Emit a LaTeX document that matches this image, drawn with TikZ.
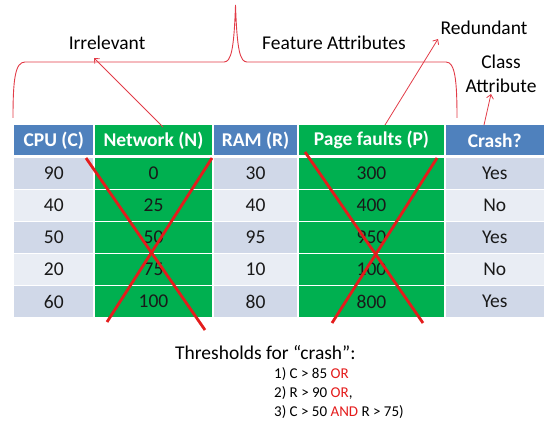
\documentclass[tikz,border=0pt]{standalone}
\usepackage{fontspec}
\setmainfont{Carlito}
\usetikzlibrary{arrows.meta}
\definecolor{hdblue}{RGB}{79,129,189}
\definecolor{featgreen}{RGB}{0,176,80}
\definecolor{rowdark}{RGB}{208,216,232}
\definecolor{rowlight}{RGB}{233,237,244}
\definecolor{markred}{RGB}{228,28,28}
\definecolor{notered}{RGB}{226,60,72}

\begin{document}
\begin{tikzpicture}[x=1pt,y=-1pt,
    cell/.style={draw=white,line width=1.2pt,minimum height=32pt,inner sep=0pt,text=black!90,font=\fontsize{19.5}{23}\selectfont},
    hcell/.style={cell,minimum height=31.5pt,text=white,font=\fontsize{19.5}{23}\selectfont\bfseries},
    note/.style={inner sep=0pt,font=\fontsize{19.5}{24}\selectfont},
    pointer/.style={notered,line width=0.8pt,-{Straight Barb[length=4pt,width=7pt]}}]
  \useasboundingbox (0,0) rectangle (548,422);
  % header row
  \node[hcell,fill=hdblue,minimum width=80.5pt] (hcpu) at (53.75,140.25) {CPU (C)};
  \node[hcell,fill=featgreen,minimum width=119pt] (hnet) at (153.5,140.25) {Network (N)};
  \node[hcell,fill=hdblue,minimum width=85pt] (hram) at (255.5,140.25) {RAM (R)};
  \node[hcell,fill=featgreen,minimum width=147pt] (hpf) at (371.5,140.25) {Page faults (P)};
  \node[hcell,fill=hdblue,minimum width=99.5pt] (hcrash) at (494.75,140.25) {Crash?};
  % data rows
  \foreach \vc/\vn/\vr/\vp/\vk [count=\i] in {90/0/30/300/Yes, 40/25/40/400/No, 50/50/95/950/Yes, 20/75/10/100/No, 60/100/80/800/Yes}{
    \ifodd\i \def\rowfill{rowdark}\else \def\rowfill{rowlight}\fi
    \pgfmathsetmacro\y{141.5+32*\i}
    \node[cell,fill=\rowfill,minimum width=80.5pt] (cpu\i) at (53.75,\y) {\vc};
    \node[cell,fill=featgreen,minimum width=119pt] (net\i) at (153.5,\y) {\vn};
    \node[cell,fill=\rowfill,minimum width=85pt] (ram\i) at (255.5,\y) {\vr};
    \node[cell,fill=featgreen,minimum width=147pt] (pf\i) at (371.5,\y) {\vp};
    \node[cell,fill=\rowfill,minimum width=99.5pt] (crash\i) at (494.75,\y) {\vk};
  }
  % crossed out columns
  \draw[markred,line width=2.8pt] (86,158) -- (205,330);
  \draw[markred,line width=2.8pt] (212,158) -- (107,322);
  \draw[markred,line width=2.8pt] (305,152) -- (423,323);
  \draw[markred,line width=2.8pt] (437,158) -- (332,323);
  % brace over the features
  \draw[notered,line width=0.9pt] (13,118) .. controls (13,80) and (15,62) .. (25,62) -- (224,62)
    .. controls (231,62) and (234,50) .. (235.5,5) .. controls (237,50) and (240,62) .. (247,62)
    -- (446,62) .. controls (455,62) and (457,80) .. (457,118);
  % labels
  \node[note] (irr) at (107,43) {Irrelevant};
  \node[note] (feat) at (334,43) {Feature Attributes};
  \node[note] (red) at (484,28) {Redundant};
  \node[note,align=center] (cls) at (501,74) {Class\\Attribute};
  \coordinate (irrtail) at (163,127);
  \coordinate (irrtip) at (94,58);
  \coordinate (redtail) at (385,125);
  \coordinate (redtip) at (438,39);
  \coordinate (clstail) at (484,125);
  \coordinate (clstip) at (491,94);
  \draw[pointer] (irrtail) -- (irrtip);
  \draw[pointer] (redtail) -- (redtip);
  \draw[pointer] (clstail) -- (clstip);
  % thresholds
  \node[note,anchor=west] (thr) at (175,353) {Thresholds for “crash”:};
  \node[inner sep=0pt,anchor=west,align=left,font=\fontsize{15}{19}\selectfont] (rules) at (274,393)
    {1) C > 85 \textcolor{markred}{OR}\\2) R > 90 \textcolor{markred}{OR},\\3) C > 50 \textcolor{markred}{AND} R > 75)};
\end{tikzpicture}
\end{document}
